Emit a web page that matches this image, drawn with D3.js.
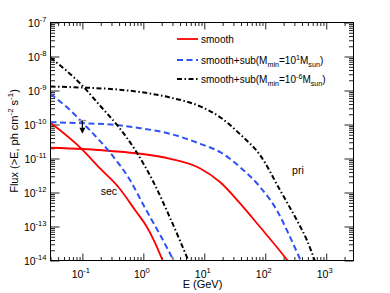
<!DOCTYPE html>
<html>
<head>
<meta charset="utf-8">
<script src="https://cdn.jsdelivr.net/npm/d3@7"></script>
<style>
  body { margin: 0; background: #fff; }
  text { font-family: 'Liberation Sans', Arial, Helvetica, sans-serif; fill: #000; }
</style>
</head>
<body>
<div id="chart"></div>
<script>
// [E (GeV), flux (>E) ph cm^-2 s^-1]
const smoothSec = [[0.03, 1.12e-10], [0.096, 1.95e-11], [0.197, 5.0e-12], [0.389, 1.45e-12], [0.74, 2.95e-13], [1.15, 9.5e-14], [1.57, 3.2e-14], [2.07, 1e-14]];
const smoothPri = [[0.03, 2.07e-11], [0.1, 1.9e-11], [0.288, 1.66e-11], [0.893, 1.38e-11], [2.77, 9.8e-12], [8.59, 5.1e-12], [18.3, 2.0e-12], [38.9, 4.7e-13], [82.8, 9.5e-14], [155.6, 2.45e-14], [232, 1e-14]];
const sub1Sec = [[0.03, 7.9e-10], [0.0561, 3.2e-10], [0.119, 8.3e-11], [0.326, 1.1e-11], [0.612, 2.24e-12], [1.01, 4.2e-13], [1.90, 5.5e-14], [3.14, 1e-14]];
const sub1Pri = [[0.03, 1.17e-10], [0.1, 1.09e-10], [0.288, 1.0e-10], [0.893, 7.8e-11], [2.77, 5.3e-11], [8.59, 2.7e-11], [18.3, 1.53e-11], [38.9, 5.5e-12], [82.8, 1.43e-12], [155.6, 2.96e-13], [241, 6.1e-14], [380, 1e-14]];
const sub6Sec = [[0.03, 9.3e-9], [0.099, 1.41e-9], [0.197, 3.5e-10], [0.389, 8.7e-11], [0.759, 1.62e-11], [1.476, 1.97e-12], [2.77, 1.72e-13], [5.47, 1e-14]];
const sub6Pri = [[0.03, 1.31e-9], [0.1, 1.22e-9], [0.288, 1.11e-9], [0.893, 9.0e-10], [2.77, 6.2e-10], [8.59, 3.4e-10], [19.5, 1.5e-10], [38.9, 5.1e-11], [82.8, 1.23e-11], [176, 1.15e-12], [331, 1.5e-13], [484, 3.9e-14], [647, 1e-14]];

const upperLimit = [[0.1, 1.3e-10]];
const annotations = [{text: 'sec', E: 0.2, F: 8.7e-13}, {text: 'pri', E: 275, F: 3.6e-12}];

const xTickExps = [-1, 0, 1, 2, 3];
const yTickExps = [-14, -13, -12, -11, -10, -9, -8, -7];

// legend labels as rich text parts: [text, '' | 'sub' | 'sup']
const legendLabels = [
    [['smooth', '']],
    [['smooth+sub(M', ''], ['min', 'sub'], ['=10', ''], ['1', 'sup'], ['M', ''], ['sun', 'sub'], [')', '']],
    [['smooth+sub(M', ''], ['min', 'sub'], ['=10', ''], ['-6', 'sup'], ['M', ''], ['sun', 'sub'], [')', '']]
];

const styles = [
    {color: '#ff0000', dash: null, width: 1.8},
    {color: '#2f52f5', dash: '6,3.5', width: 2},
    {color: '#000000', dash: '5,2.5,1.5,2.5', width: 2}
];
const curves = [
    {values: smoothSec, s: 0}, {values: smoothPri, s: 0},
    {values: sub1Sec, s: 1}, {values: sub1Pri, s: 1},
    {values: sub6Sec, s: 2}, {values: sub6Pri, s: 2}
];

const margin = {top: 22, right: 37, bottom: 33, left: 50};
const width = 390 - margin.left - margin.right;
const height = 293 - margin.top - margin.bottom;

const svg = d3.select('#chart').append('svg')
    .attr('width', 390)
    .attr('height', 293);
const chart = svg.append('g')
    .attr('transform', `translate(${margin.left + 0.5}, ${margin.top + 0.5})`);

const x = d3.scaleLog().domain([0.03, 2800]).range([0, width]);
const y = d3.scaleLog().domain([1e-14, 1e-7]).range([height, 0]);

const isMajor = v => Math.abs(Math.log10(v) - Math.round(Math.log10(v))) < 1e-9;
const xMajor = xTickExps.map(e => Math.pow(10, e));
const yMajor = yTickExps.map(e => Math.pow(10, e));
const xMinor = x.ticks().filter(v => !isMajor(v));
const yMinor = y.ticks().filter(v => !isMajor(v));

// ticks point inward on all four sides
function tickAxis(axis, values, size, transform) {
    const g = chart.append('g')
        .attr('transform', transform)
        .call(axis.tickValues(values).tickSize(size).tickFormat(''));
    g.select('.domain').remove();
    g.selectAll('.tick line').attr('stroke', '#222').attr('stroke-width', 1);
}
tickAxis(d3.axisBottom(x), xMinor, -3.5, `translate(0, ${height})`);
tickAxis(d3.axisBottom(x), xMajor, -7, `translate(0, ${height})`);
tickAxis(d3.axisTop(x), xMinor, -3.5, 'translate(0, 0)');
tickAxis(d3.axisTop(x), xMajor, -7, 'translate(0, 0)');
tickAxis(d3.axisLeft(y), yMinor, -4.5, 'translate(0, 0)');
tickAxis(d3.axisLeft(y), yMajor, -9, 'translate(0, 0)');
tickAxis(d3.axisRight(y), yMinor, -4.5, `translate(${width}, 0)`);
tickAxis(d3.axisRight(y), yMajor, -9, `translate(${width}, 0)`);

// curves
svg.append('defs').append('clipPath').attr('id', 'plot_clip')
    .append('rect').attr('width', width).attr('height', height);
const plot = chart.append('g').attr('clip-path', 'url(#plot_clip)');

const line = d3.line()
    .x(d => x(d[0]))
    .y(d => y(d[1]))
    .curve(d3.curveMonotoneX);

plot.selectAll('.curve')
    .data(curves)
    .join('path')
        .attr('class', 'curve')
        .attr('d', d => line(d.values))
        .attr('fill', 'none')
        .attr('stroke', d => styles[d.s].color)
        .attr('stroke-width', d => styles[d.s].width)
        .attr('stroke-dasharray', d => styles[d.s].dash);

// upper limit marker
upperLimit.forEach(d => {
    const px = x(d[0]), py = y(d[1]);
    chart.append('line')
        .attr('x1', px - 4).attr('x2', px + 4)
        .attr('y1', py).attr('y2', py)
        .attr('stroke', '#999').attr('stroke-width', 1.5);
    chart.append('line')
        .attr('x1', px).attr('x2', px)
        .attr('y1', py).attr('y2', py + 10)
        .attr('stroke', '#000').attr('stroke-width', 1.2);
    chart.append('path')
        .attr('d', `M${px - 3},${py + 7} L${px + 3},${py + 7} L${px},${py + 13} Z`)
        .attr('fill', '#000');
});

// frame
chart.append('rect')
    .attr('width', width).attr('height', height)
    .attr('fill', 'none').attr('stroke', '#000').attr('stroke-width', 1);

// rich text helper for sub/superscripts
function richText(textSel, parts, size) {
    let offset = 0;
    parts.forEach(([t, kind]) => {
        const target = kind === 'sup' ? -0.42 * size : kind === 'sub' ? 0.3 * size : 0;
        textSel.append('tspan')
            .attr('dy', target - offset)
            .attr('font-size', kind ? size * 0.72 : size)
            .text(t);
        offset = target;
    });
}

// tick labels
chart.selectAll('.xlab')
    .data(xTickExps)
    .join('text')
        .attr('class', 'xlab')
        .attr('x', d => x(Math.pow(10, d)) - 1.5)
        .attr('y', height + 17)
        .attr('text-anchor', 'middle')
        .each(function(d) { richText(d3.select(this), [['10', ''], [String(d), 'sup']], 10.5); });

chart.selectAll('.ylab')
    .data(yTickExps)
    .join('text')
        .attr('class', 'ylab')
        .attr('x', -4)
        .attr('y', d => y(Math.pow(10, d)) + 4)
        .attr('text-anchor', 'end')
        .each(function(d) { richText(d3.select(this), [['10', ''], [String(d), 'sup']], 10.5); });

// axis titles
svg.append('text')
    .attr('x', margin.left + width / 2 + 1)
    .attr('y', 288)
    .attr('text-anchor', 'middle')
    .attr('font-size', 11)
    .text('E (GeV)');

const yTitle = svg.append('text')
    .attr('transform', `translate(17.5, ${margin.top + height / 2}) rotate(-90)`)
    .attr('text-anchor', 'middle');
richText(yTitle, [['Flux (>E, ph cm', ''], ['-2', 'sup'], [' s', ''], ['-1', 'sup'], [')', '']], 11);

// annotations
chart.selectAll('.note')
    .data(annotations)
    .join('text')
        .attr('class', 'note')
        .attr('x', d => x(d.E))
        .attr('y', d => y(d.F))
        .attr('font-size', 10.5)
        .text(d => d.text);

// legend
const legend = svg.append('g').attr('transform', 'translate(177, 39)');
const rowY = [0, 21, 40];
legendLabels.forEach((parts, i) => {
    const st = styles[i];
    legend.append('line')
        .attr('x1', 0).attr('x2', 21)
        .attr('y1', rowY[i]).attr('y2', rowY[i])
        .attr('stroke', st.color)
        .attr('stroke-width', st.width)
        .attr('stroke-dasharray', st.dash);
    const t = legend.append('text')
        .attr('x', 24)
        .attr('y', rowY[i] + 4);
    richText(t, parts, 10);
});
</script>
</body>
</html>
